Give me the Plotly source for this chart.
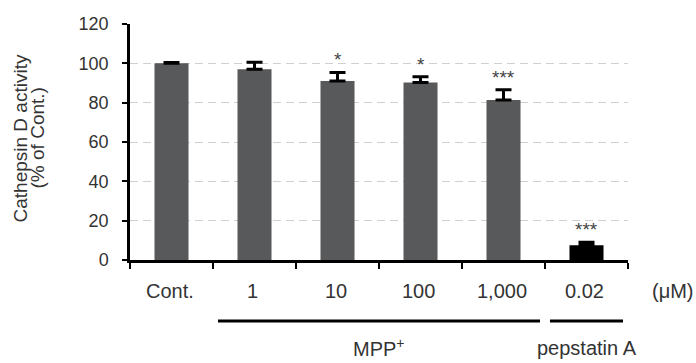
import plotly.graph_objects as go

categories = ["Cont.", "1", "10", "100", "1,000", "0.02"]
values = [100, 97, 91, 90.2, 81.3, 7.5]
errors = [0.4, 3.5, 4.4, 3.0, 5.3, 1.5]
significance = ["", "", "*", "*", "***", "***"]
bar_colors = ["#58595b", "#58595b", "#58595b", "#58595b", "#58595b", "#000000"]
groups = [("MPP<sup>+</sup>", 1, 4), ("pepstatin A", 5, 5)]
unit_label = "(\u03bcM)"
y_title_lines = ["Cathepsin D activity", "(% of Cont.)"]
y_ticks = [0, 20, 40, 60, 80, 100, 120]

FONT = "Liberation Sans, Arial, sans-serif"
TXT = "#333333"

x = list(range(len(categories)))

fig = go.Figure()
fig.add_trace(go.Bar(
    x=x, y=values, width=0.41,
    marker=dict(color=bar_colors, line=dict(width=0)),
    error_y=dict(type="data", array=errors, arrayminus=[0] * len(errors),
                 symmetric=False, color="#000000", thickness=3, width=8),
    showlegend=False,
))

annotations = []
for i, (v, e, s) in enumerate(zip(values, errors, significance)):
    if s:
        annotations.append(dict(x=i, y=v + e, xref="x", yref="y", text=s, showarrow=False,
                                yanchor="bottom", yshift=0,
                                font=dict(family=FONT, size=19, color="#444444")))
for i, c in enumerate(categories):
    annotations.append(dict(x=i, y=-0.131, xref="x", yref="paper", text=c, showarrow=False,
                            yanchor="middle", xanchor="center", xshift=-2,
                            font=dict(family=FONT, size=20, color=TXT)))
annotations.append(dict(x=1.09, y=-0.131, xref="paper", yref="paper", text=unit_label,
                        showarrow=False, yanchor="middle", xanchor="center",
                        font=dict(family=FONT, size=20, color=TXT)))

shapes = []
for label, a, b in groups:
    shapes.append(dict(type="line", xref="x", yref="paper", x0=a - 0.44, x1=b + 0.44,
                       y0=-0.2585, y1=-0.2585, line=dict(color="#000000", width=3)))
    annotations.append(dict(x=(a + b) / 2, y=-0.372, xref="x", yref="paper", text=label,
                            showarrow=False, yanchor="middle", xanchor="center",
                            font=dict(family=FONT, size=20, color=TXT)))

for k, line in enumerate(y_title_lines):
    annotations.append(dict(x=(20 + 17 * k - 130) / 498, y=0.515, xref="paper", yref="paper",
                            text=line, showarrow=False, textangle=-90,
                            xanchor="center", yanchor="middle",
                            font=dict(family=FONT, size=19, color=TXT)))

fig.update_layout(
    width=696, height=363,
    margin=dict(l=130, r=68, t=24, b=103),
    paper_bgcolor="white", plot_bgcolor="white",
    font=dict(family=FONT, color=TXT),
    annotations=annotations, shapes=shapes,
    xaxis=dict(range=[-0.5, len(categories) - 0.5],
               tickvals=[i - 0.5 for i in range(len(categories) + 1)],
               showticklabels=False, ticks="outside", ticklen=6, tickwidth=2,
               tickcolor="#000000", showline=True, linecolor="#000000", linewidth=2.5,
               showgrid=False, zeroline=False, fixedrange=True),
    yaxis=dict(range=[0, 120], tickvals=y_ticks, ticks="outside", ticklen=5, tickwidth=2,
               tickcolor="#000000", showline=True, linecolor="#000000", linewidth=2.5,
               showgrid=True, gridcolor="#d0d0d0", griddash="8px,5px", gridwidth=1,
               zeroline=False, ticklabelstandoff=10,
               tickfont=dict(family=FONT, size=18, color=TXT)),
)

fig.write_html("out.html", config={"displayModeBar": False},
               post_script="document.body.style.margin='0';document.body.style.overflow='hidden';")
